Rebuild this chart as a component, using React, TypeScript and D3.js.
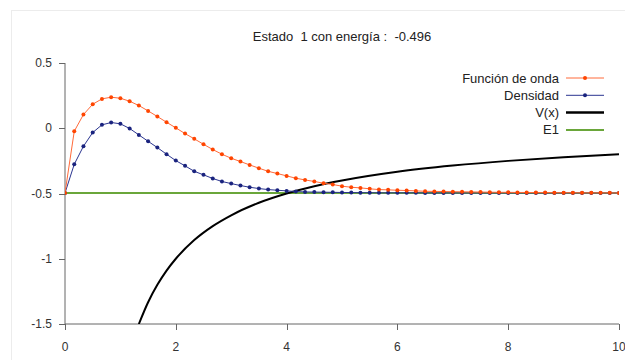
import React, { useEffect, useRef } from "react";
import * as d3 from "d3";

// malla de x (paso 1/6) usada por la función de onda y la densidad
const xMalla = [
  0, 0.167, 0.333, 0.5, 0.667, 0.833, 1, 1.167, 1.333, 1.5, 1.667, 1.833, 2, 2.167, 2.333, 2.5,
  2.667, 2.833, 3, 3.167, 3.333, 3.5, 3.667, 3.833, 4, 4.167, 4.333, 4.5, 4.667, 4.833, 5,
  5.167, 5.333, 5.5, 5.667, 5.833, 6, 6.167, 6.333, 6.5, 6.667, 6.833, 7, 7.167, 7.333, 7.5,
  7.667, 7.833, 8, 8.167, 8.333, 8.5, 8.667, 8.833, 9, 9.167, 9.333, 9.5, 9.667, 9.833, 10,
];

const funcionOnda = [
  -0.496, -0.023, 0.105, 0.184, 0.225, 0.238, 0.23, 0.207, 0.174, 0.133, 0.09, 0.046, 0.003,
  -0.041, -0.081, -0.123, -0.163, -0.199, -0.23, -0.255, -0.281, -0.306, -0.33, -0.347, -0.365,
  -0.383, -0.396, -0.408, -0.421, -0.431, -0.444, -0.452, -0.457, -0.464, -0.47, -0.472, -0.475,
  -0.477, -0.48, -0.483, -0.484, -0.485, -0.486, -0.487, -0.488, -0.489, -0.49, -0.491, -0.491,
  -0.492, -0.492, -0.493, -0.493, -0.494, -0.494, -0.494, -0.495, -0.495, -0.495, -0.495, -0.496,
];

const densidad = [
  -0.496, -0.276, -0.138, -0.033, 0.026, 0.044, 0.034, -0.002, -0.051, -0.1, -0.148, -0.199,
  -0.248, -0.288, -0.33, -0.357, -0.385, -0.408, -0.424, -0.439, -0.452, -0.462, -0.47, -0.475,
  -0.48, -0.485, -0.488, -0.489, -0.49, -0.491, -0.492, -0.493, -0.494, -0.494, -0.495, -0.495,
  -0.495, -0.495, -0.495, -0.496, -0.496, -0.496, -0.496, -0.496, -0.496, -0.496, -0.496, -0.496,
  -0.496, -0.496, -0.496, -0.496, -0.496, -0.496, -0.496, -0.496, -0.496, -0.496, -0.496, -0.496,
  -0.496,
];

// potencial V(x)
const xPotencial = [1.333, 1.5, 1.667, 1.833, 2, 2.333, 2.667, 3, 3.5, 4, 4.5, 5, 6, 7, 8, 9, 10];
const potencial = [
  -1.5, -1.333, -1.2, -1.091, -1.0, -0.857, -0.75, -0.667, -0.571, -0.5, -0.444, -0.4, -0.333,
  -0.286, -0.25, -0.222, -0.2,
];

const energia = -0.496;

const xTicks = [0, 2, 4, 6, 8, 10];
const yTicks = [0.5, 0, -0.5, -1, -1.5];
const yTickLabels = ["0.5", "0", "-0.5", "-1", "-1.5"];

const leyenda = ["Función de onda", "Densidad", "V(x)", "E1"];

const App = () => {
  const chartRef = useRef<SVGSVGElement>(null);

  useEffect(() => {
    const svg = d3.select(chartRef.current);
    svg.selectAll("*").remove();

    const font = "'Liberation Sans', Arial, sans-serif";
    const x = d3.scaleLinear().domain([0, 10]).range([65, 619]);
    const y = d3.scaleLinear().domain([-1.5, 0.5]).range([324, 63]);

    // marco claro
    svg.append("rect")
      .attr("x", 11.5).attr("y", 10.5)
      .attr("width", 640).attr("height", 400)
      .attr("fill", "none").attr("stroke", "#ececec");

    // título
    svg.append("text")
      .attr("x", (x(0) + x(10)) / 2)
      .attr("y", 41)
      .attr("text-anchor", "middle")
      .style("font-family", font)
      .style("font-size", "13px")
      .style("white-space", "pre")
      .attr("fill", "#222")
      .text("Estado  1 con energía :  -0.496");

    // ejes
    const axisColor = "#666";
    svg.append("line")
      .attr("x1", x(0)).attr("x2", x(0))
      .attr("y1", y(0.5)).attr("y2", y(-1.5))
      .attr("stroke", axisColor);
    svg.append("line")
      .attr("x1", x(0)).attr("x2", x(10))
      .attr("y1", y(-1.5)).attr("y2", y(-1.5))
      .attr("stroke", axisColor);

    yTicks.forEach((t, i) => {
      svg.append("line")
        .attr("x1", x(0) - 6).attr("x2", x(0))
        .attr("y1", Math.round(y(t)) + 0.5).attr("y2", Math.round(y(t)) + 0.5)
        .attr("stroke", axisColor);
      svg.append("text")
        .attr("x", x(0) - 13)
        .attr("y", y(t))
        .attr("dy", "0.35em")
        .attr("text-anchor", "end")
        .style("font-family", font)
        .style("font-size", "12px")
        .attr("fill", "#333")
        .text(yTickLabels[i]);
    });

    xTicks.forEach(t => {
      svg.append("line")
        .attr("x1", Math.round(x(t)) + 0.5).attr("x2", Math.round(x(t)) + 0.5)
        .attr("y1", y(-1.5)).attr("y2", y(-1.5) + 6)
        .attr("stroke", axisColor);
      svg.append("text")
        .attr("x", x(t))
        .attr("y", 347)
        .attr("dy", "0.35em")
        .attr("text-anchor", "middle")
        .style("font-family", font)
        .style("font-size", "12px")
        .attr("fill", "#333")
        .text(t);
    });

    // clip al área del gráfico
    svg.append("clipPath").attr("id", "area")
      .append("rect")
      .attr("x", x(0)).attr("y", y(0.5))
      .attr("width", x(10) - x(0)).attr("height", y(-1.5) - y(0.5));

    const plot = svg.append("g").attr("clip-path", "url(#area)");

    // E1
    plot.append("line")
      .attr("x1", x(0)).attr("x2", x(10))
      .attr("y1", y(energia)).attr("y2", y(energia))
      .attr("stroke", "#6aa63a")
      .attr("stroke-width", 2);

    // V(x)
    const lineaV = d3.line<number>()
      .x((d, i) => x(xPotencial[i]))
      .y(d => y(d))
      .curve(d3.curveMonotoneX);
    plot.append("path")
      .attr("d", lineaV(potencial))
      .attr("fill", "none")
      .attr("stroke", "#000")
      .attr("stroke-width", 2);

    const linea = d3.line<number>()
      .x((d, i) => x(xMalla[i]))
      .y(d => y(d));

    const series = [
      { valores: densidad, linea: "#2b3590", punto: "#1a237e" },
      { valores: funcionOnda, linea: "#ff6a3a", punto: "#ff4500" },
    ];

    series.forEach(s => {
      plot.append("path")
        .attr("d", linea(s.valores))
        .attr("fill", "none")
        .attr("stroke", s.linea)
        .attr("stroke-width", 1);
      plot.selectAll(null)
        .data(s.valores)
        .enter()
        .append("circle")
        .attr("cx", (d, i) => x(xMalla[i]))
        .attr("cy", d => y(d))
        .attr("r", 2)
        .attr("fill", s.punto);
    });

    // leyenda
    const estilos = [
      { color: "#ff6a3a", punto: "#ff4500", ancho: 1 },
      { color: "#2b3590", punto: "#1a237e", ancho: 1 },
      { color: "#000", punto: null, ancho: 2.5 },
      { color: "#6aa63a", punto: null, ancho: 2 },
    ];
    leyenda.forEach((nombre, i) => {
      const yy = 78 + i * 17.3;
      svg.append("text")
        .attr("x", 559)
        .attr("y", yy)
        .attr("dy", "0.35em")
        .attr("text-anchor", "end")
        .style("font-family", font)
        .style("font-size", "13px")
        .attr("fill", "#222")
        .text(nombre);
      svg.append("line")
        .attr("x1", 566).attr("x2", 604)
        .attr("y1", yy).attr("y2", yy)
        .attr("stroke", estilos[i].color)
        .attr("stroke-width", estilos[i].ancho);
      if (estilos[i].punto) {
        svg.append("circle")
          .attr("cx", 585).attr("cy", yy).attr("r", 2)
          .attr("fill", estilos[i].punto);
      }
    });
  }, []);

  return (
    <div style={{ position: "absolute", left: 0, top: 0 }}>
      <svg ref={chartRef} width="625" height="360"></svg>
    </div>
  );
};

export default App;
